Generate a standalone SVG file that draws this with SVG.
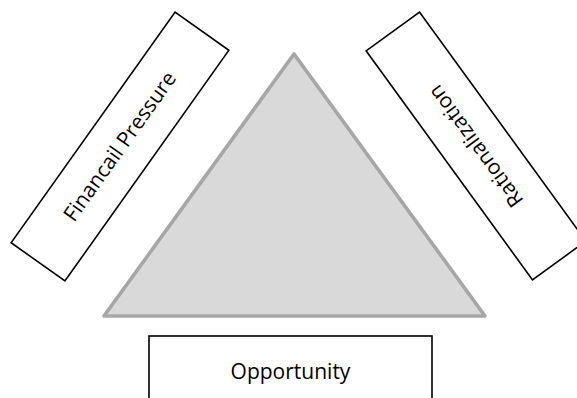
<svg xmlns="http://www.w3.org/2000/svg" width="577" height="398" viewBox="0 0 577 398">
<style>
.box{fill:#ffffff;stroke:#000000;stroke-width:1.6}
.lbl{font-family:"Open Sans","Liberation Sans",sans-serif;font-size:21px;fill:#000000;text-anchor:middle}
</style>
<rect width="577" height="398" fill="#ffffff"/>
<g id="triangle">
<polygon points="294,54 104,316 485,316" fill="#d9d9d9" stroke="#a6a6a6" stroke-width="3.6" stroke-linejoin="round"/>
</g>
<g id="connectors"></g>
<g id="financial-pressure" transform="translate(120,146.5) rotate(-54.6)">
<rect class="box" x="-141.5" y="-33" width="283" height="66"/>
<text class="lbl" x="0" y="7">Financail Pressure</text>
</g>
<g id="rationalization" transform="translate(476,146) rotate(54)">
<rect class="box" x="-141.5" y="-33" width="283" height="66"/>
<text class="lbl" x="0" y="7" transform="rotate(180)">Rationalization</text>
</g>
<g id="opportunity">
<rect class="box" x="149" y="336" width="283" height="80"/>
<text class="lbl" x="290.5" y="379">Opportunity</text>
</g>
</svg>
